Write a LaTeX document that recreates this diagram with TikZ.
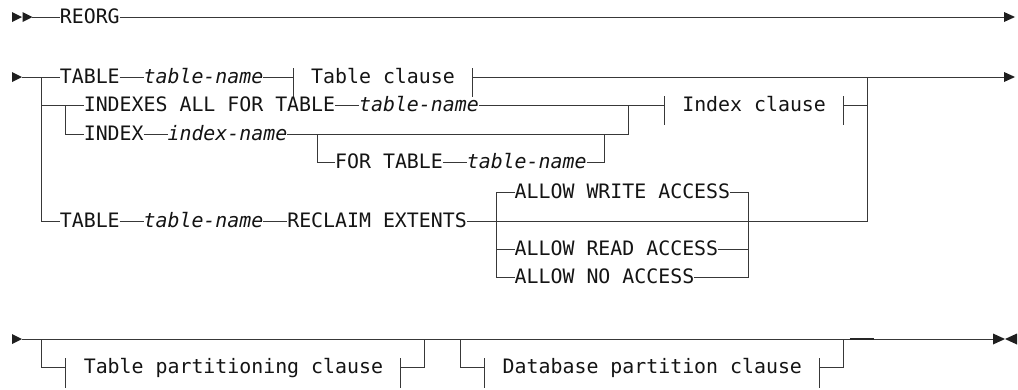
\documentclass[tikz,border=0pt]{standalone}
\usepackage{fontspec}
\setmonofont{DejaVu Sans Mono}
\def\W{11.97}
\tikzset{
  ln/.style={draw=black!78, line width=1pt},
  thickln/.style={draw=black!85, line width=1.4pt},
  kw/.style={inner sep=0pt, outer sep=0pt, anchor=base west, text=black!92,
    font=\ttfamily\fontsize{19.88}{24}\selectfont},
  var/.style={kw, font=\ttfamily\itshape\fontsize{19.88}{24}\selectfont},
  tip/.style={fill=black!88},
}
\begin{document}
\begin{tikzpicture}[x=1pt,y=-1pt]
\fill[white] (0,0) rectangle (1018,389);
\useasboundingbox (0,0) rectangle (1018,389);
% row reference coordinates
\coordinate (r1) at (0,17);
\coordinate (r2) at (0,77);
\coordinate (r3) at (0,105);
\coordinate (r4) at (0,134);
\coordinate (r5) at (0,162);
\coordinate (rW) at (0,192);
\coordinate (rM) at (0,221);
\coordinate (rR) at (0,249);
\coordinate (rN) at (0,277);
\coordinate (rB) at (0,339);
\coordinate (rC) at (0,367);

% ---------------- row 1 ----------------
\fill[tip] (12,12) -- (22,17) -- (12,22) -- cycle;
\fill[tip] (22.5,12) -- (32.5,17) -- (22.5,22) -- cycle;
\coordinate (s1) at (32,17);
\node[kw] (reorg) at ({5*\W},23) {REORG};
\coordinate (e1) at (1005,17);
\draw[ln] (s1) -- (reorg.west |- r1);
\draw[ln] (reorg.east |- r1) -- (e1);
\fill[tip] (1004,12) -- (1015,17) -- (1004,22) -- cycle;

% ---------------- row 2 ----------------
\fill[tip] (12,72) -- (22,77) -- (12,82) -- cycle;
\coordinate (s2) at (22,77);
\coordinate (j2a) at ({3.5*\W},77);
\node[kw] (t2) at ({5*\W},83) {TABLE};
\node[var] (tn2) at ({12*\W},83) {table-name};
\coordinate (tcL) at ({24.5*\W},77);
\node[kw] (tc) at ({26*\W},83) {Table clause};
\coordinate (tcR) at ({39.5*\W},77);
\coordinate (j2b) at ({72.5*\W},77);
\coordinate (e2) at (1005,77);
\draw[ln] (s2) -- (t2.west |- r2);
\draw[ln] (t2.east |- r2) -- (tn2.west |- r2);
\draw[ln] (tn2.east |- r2) -- (tcL);
\draw[ln] (tcL) ++(0,-9) -- ++(0,29);
\draw[ln] (tcR) ++(0,-9) -- ++(0,29);
\draw[ln] (tcR) -- (e2);
\fill[tip] (1004,72) -- (1015,77) -- (1004,82) -- cycle;

% ---------------- row 3 (INDEXES) ----------------
\coordinate (j3a) at ({3.5*\W},105);
\coordinate (j3b) at ({5.5*\W},105);
\node[kw] (ixall) at ({7*\W},111) {INDEXES ALL FOR TABLE};
\node[var] (tn3) at ({30*\W},111) {table-name};
\coordinate (j3c) at ({52.5*\W},105);
\coordinate (icL) at ({55.5*\W},105);
\node[kw] (ic) at ({57*\W},111) {Index clause};
\coordinate (icR) at ({70.5*\W},105);
\coordinate (j3d) at ({72.5*\W},105);
\draw[ln] (j3a) -- (ixall.west |- r3);
\draw[ln] (ixall.east |- r3) -- (tn3.west |- r3);
\draw[ln] (tn3.east |- r3) -- (icL);
\draw[ln] (icL) ++(0,-9) -- ++(0,29);
\draw[ln] (icR) ++(0,-9) -- ++(0,29);
\draw[ln] (icR) -- (j3d);

% ---------------- row 4 (INDEX) ----------------
\node[kw] (ix) at ({7*\W},140) {INDEX};
\node[var] (in4) at ({14*\W},140) {index-name};
\coordinate (j4a) at ({26.5*\W},134);
\coordinate (j4b) at ({50.5*\W},134);
\draw[ln] (j3b) |- (ix.west |- r4);
\draw[ln] (ix.east |- r4) -- (in4.west |- r4);
\draw[ln] (in4.east |- r4) -| (j3c);

% ---------------- row 5 (FOR TABLE) ----------------
\node[kw] (ft) at ({28*\W},168) {FOR TABLE};
\node[var] (tn5) at ({39*\W},168) {table-name};
\draw[ln] (j4a) |- (ft.west |- r5);
\draw[ln] (ft.east |- r5) -- (tn5.west |- r5);
\draw[ln] (tn5.east |- r5) -| (j4b);

% ---------------- row M (TABLE RECLAIM) ----------------
\node[kw] (t6) at ({5*\W},227) {TABLE};
\node[var] (tn6) at ({12*\W},227) {table-name};
\node[kw] (rc) at ({24*\W},227) {RECLAIM EXTENTS};
\coordinate (jM) at ({72.5*\W},221);
\draw[ln] (j2a) |- (t6.west |- rM);
\draw[ln] (t6.east |- rM) -- (tn6.west |- rM);
\draw[ln] (tn6.east |- rM) -- (rc.west |- rM);
\draw[ln] (rc.east |- rM) -- (jM) -- (j2b);

% ALLOW group
\coordinate (aLt) at ({41.5*\W},192);
\coordinate (aLb) at ({41.5*\W},277);
\coordinate (aRt) at ({62.5*\W},192);
\coordinate (aRb) at ({62.5*\W},277);
\node[kw] (aw) at ({43*\W},198) {ALLOW WRITE ACCESS};
\node[kw] (ar) at ({43*\W},255) {ALLOW READ ACCESS};
\node[kw] (an) at ({43*\W},283) {ALLOW NO ACCESS};
\draw[ln] (aw.west |- rW) -- (aLt) -- (aLb) -- (an.west |- rN);
\draw[ln] (aLt |- rR) -- (ar.west |- rR);
\draw[ln] (aw.east |- rW) -- (aRt) -- (aRb) -- (an.east |- rN);
\draw[ln] (ar.east |- rR) -- (aRt |- rR);

% ---------------- bottom row ----------------
\fill[tip] (12,334) -- (22,339) -- (12,344) -- cycle;
\coordinate (sB) at (22,339);
\coordinate (eB) at (993.5,339);
\draw[ln] (sB) -- (eB);
\fill[tip] (993,333.5) -- (1005,339) -- (993,344.5) -- cycle;
\fill[tip] (1017,333.5) -- (1005,339) -- (1017,344.5) -- cycle;
\coordinate (b1) at ({3.5*\W},339);
\coordinate (tpL) at ({5.5*\W},367);
\node[kw] (tp) at ({7*\W},373) {Table partitioning clause};
\coordinate (tpR) at ({33.5*\W},367);
\coordinate (b2) at ({35.5*\W},339);
\draw[ln] (b1) |- (tpL);
\draw[ln] (tpL) ++(0,-9) -- ++(0,30);
\draw[ln] (tpR) ++(0,-9) -- ++(0,30);
\draw[ln] (tpR) -| (b2);
\coordinate (b3) at ({38.5*\W},339);
\coordinate (dpL) at ({40.5*\W},367);
\node[kw] (dp) at ({42*\W},373) {Database partition clause};
\coordinate (dpR) at ({68.5*\W},367);
\coordinate (b4) at ({70.5*\W},339);
\draw[ln] (b3) |- (dpL);
\draw[ln] (dpL) ++(0,-9) -- ++(0,30);
\draw[ln] (dpR) ++(0,-9) -- ++(0,30);
\draw[ln] (dpR) -| (b4);
\coordinate (dk1) at ({71*\W},339);
\coordinate (dk2) at ({73*\W},339);
\draw[thickln] (dk1) -- (dk2);
\end{tikzpicture}
\end{document}
